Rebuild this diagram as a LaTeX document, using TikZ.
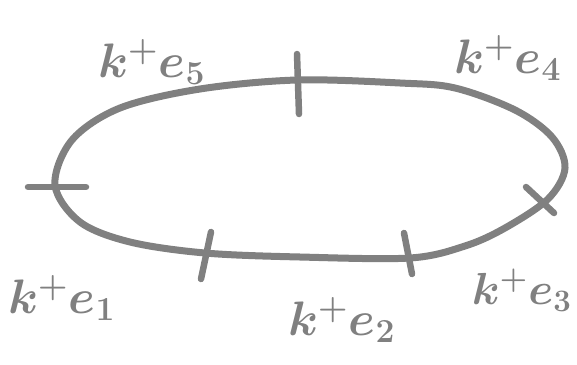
\documentclass[tikz,border=0pt]{standalone}
\usepackage{graphicx}
\usepackage{tikz}
\definecolor{pen}{RGB}{128,128,128}
\newcommand{\biglab}[2][2.8]{\scalebox{#1}{\boldmath$#2$}}
\begin{document}
\begin{tikzpicture}[x=1pt,y=-1pt,
  loopline/.style={draw=pen,line width=7pt,line cap=round,line join=round},
  tickmark/.style={draw=pen,line width=6.5pt,line cap=round},
  lab/.style={text=pen,font=\LARGE,inner sep=0pt}]
\useasboundingbox (0,0) rectangle (577,364);
\draw[loopline] plot[smooth cycle,tension=0.55] coordinates {
 (55,185) (72,140) (120,108) (200,89) (297,80) (400,83) (455,88)
 (515,110) (552,137) (565,168) (548,199) (505,228) (465,246) (410,258)
 (300,257) (205,253) (130,242) (80,222)};
\coordinate (t1a) at (297,54); \coordinate (t1b) at (299,114);
\coordinate (t2a) at (28,187); \coordinate (t2b) at (86,187);
\coordinate (t3a) at (211,232); \coordinate (t3b) at (201,279);
\coordinate (t4a) at (404,233); \coordinate (t4b) at (412,274);
\coordinate (t5a) at (526,187); \coordinate (t5b) at (554,213);
\draw[tickmark] (t1a) -- (t1b);
\draw[tickmark] (t2a) -- (t2b);
\draw[tickmark] (t3a) -- (t3b);
\draw[tickmark] (t4a) -- (t4b);
\draw[tickmark] (t5a) -- (t5b);
\node[lab] (l5) at (152,62) {\biglab{k^{+}e_{5}}};
\node[lab] (l4) at (508,58) {\biglab{k^{+}e_{4}}};
\node[lab] (l1) at (62,298) {\biglab{k^{+}e_{1}}};
\node[lab] (l2) at (342,320) {\biglab{k^{+}e_{2}}};
\node[lab] (l3) at (522,290) {\biglab[2.6]{k^{+}e_{3}}};
\end{tikzpicture}
\end{document}
